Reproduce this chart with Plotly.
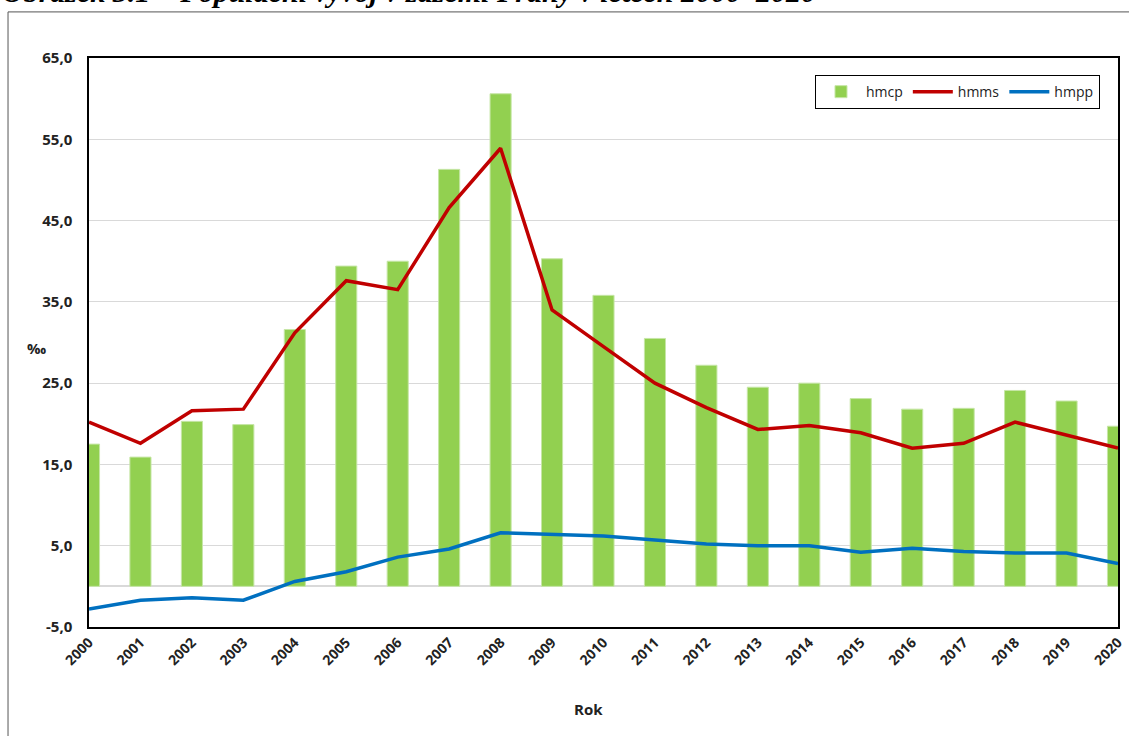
import plotly.graph_objects as go

# Populační vývoj v zázemí Prahy (‰)
years = list(range(2000, 2021))
hmcp = [17.5, 15.9, 20.3, 19.9, 31.6, 39.4, 40.0, 51.3, 60.6, 40.3, 35.8,
        30.5, 27.2, 24.5, 25.0, 23.1, 21.8, 21.9, 24.1, 22.8, 19.7]
hmms = [20.2, 17.6, 21.6, 21.8, 31.2, 37.6, 36.5, 46.6, 53.9, 34.0, 29.5,
        25.0, 22.0, 19.3, 19.8, 18.9, 17.0, 17.6, 20.2, 18.6, 17.0]
hmpp = [-2.8, -1.7, -1.4, -1.7, 0.6, 1.8, 3.6, 4.6, 6.6, 6.4, 6.2,
        5.7, 5.2, 5.0, 5.0, 4.2, 4.7, 4.3, 4.1, 4.1, 2.8]
y_ticks = [-5, 5, 15, 25, 35, 45, 55, 65]
y_labels = ["-5,0", "5,0", "15,0", "25,0", "35,0", "45,0", "55,0", "65,0"]

tick_font = dict(family="Open Sans", size=15, color="#222", weight="bold")

fig = go.Figure()
fig.add_trace(go.Bar(x=years, y=hmcp, name="hmcp", width=0.41,
                     marker=dict(color="#92d050", line=dict(color="#c6e6a6", width=1))))
fig.add_trace(go.Scatter(x=years, y=hmms, name="hmms", mode="lines",
                         line=dict(color="#c00000", width=3.5)))
fig.add_trace(go.Scatter(x=years, y=hmpp, name="hmpp", mode="lines",
                         line=dict(color="#0070c0", width=3.5)))

fig.update_layout(
    width=1129, height=736,
    margin=dict(l=89, r=11, t=58, b=109),
    paper_bgcolor="white", plot_bgcolor="white",
    showlegend=True,
    legend=dict(orientation="h", x=0.9825, xanchor="right", y=0.97, yanchor="top",
                bordercolor="black", borderwidth=1, bgcolor="white",
                font=dict(family="Open Sans", size=14, color="#222"),
                itemwidth=40, traceorder="normal"),
    xaxis=dict(range=[2000, 2020], tickvals=years, ticktext=[str(y) for y in years],
               tickangle=-45, tickfont=dict(family="Open Sans", size=14, color="#222", weight="bold"),
               showgrid=False, automargin=False,
               showline=True, linecolor="black", linewidth=1.5, mirror=True,
               ticks="", zeroline=False),
    yaxis=dict(range=[-5, 65], tickvals=y_ticks, ticktext=y_labels,
               tickfont=tick_font, showgrid=True, gridcolor="#d9d9d9", gridwidth=1,
               zeroline=True, zerolinecolor="#d9d9d9", zerolinewidth=1.5,
               showline=True, linecolor="black", linewidth=1.5, mirror=True,
               ticks="", ticklabelstandoff=12, automargin=False),
)

fig.add_annotation(text="‰", xref="paper", yref="paper", x=-0.062, y=0.49,
                   showarrow=False, font=dict(family="Open Sans", size=15, color="#222", weight="bold"))
fig.add_annotation(text="Rok", xref="paper", yref="paper", x=0.485, y=-0.144,
                   yanchor="middle", showarrow=False,
                   font=dict(family="Open Sans", size=15, color="#222", weight="bold"))
fig.add_annotation(text="<b><i>Obrázek 3.1 – Populační vývoj v zázemí Prahy v letech 2000–2020</i></b>",
                   xref="paper", yref="paper", x=-0.0865, xanchor="left",
                   y=1.085, yanchor="bottom", showarrow=False,
                   font=dict(family="Liberation Serif", size=30, color="black"))

# outer frame
fig.add_shape(type="rect", xref="paper", yref="paper",
              x0=-0.0787, x1=1.02, y0=-0.21, y1=1.081,
              line=dict(color="#555", width=1), layer="below")

fig.write_html("out.html", config={"displayModeBar": False},
               post_script="document.body.style.margin='0';")
